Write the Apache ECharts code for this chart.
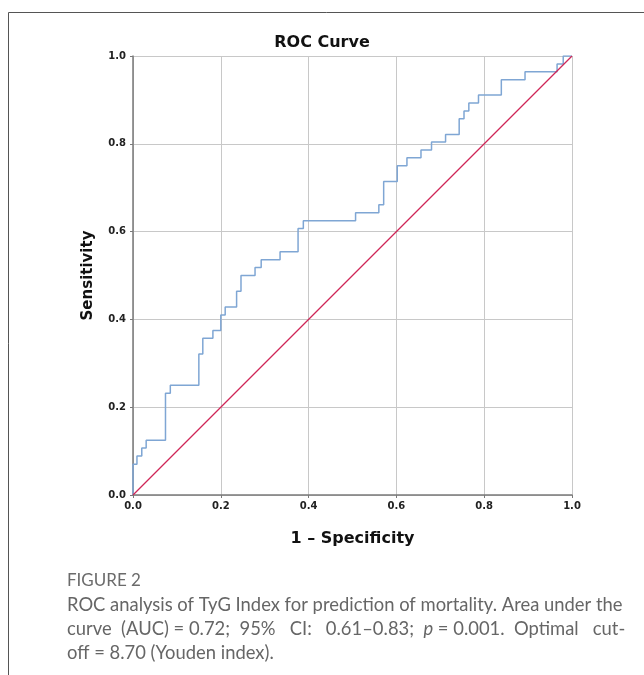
<!DOCTYPE html>
<html>
<head>
<meta charset="utf-8">
<script src="https://cdn.jsdelivr.net/npm/echarts@6/dist/echarts.min.js"></script>
<style>
  html, body { margin: 0; padding: 0; background: #fff; }
</style>
</head>
<body>
<div id="myChart" style="width:644px;height:675px;"></div>
<script>
// ROC points (step turns vertically first, then horizontally)
var fpr = [0, 0.009, 0.020, 0.030, 0.074, 0.085, 0.150, 0.159, 0.182, 0.200, 0.210, 0.236, 0.246, 0.278, 0.292, 0.335, 0.376, 0.388, 0.507, 0.560, 0.571, 0.602, 0.624, 0.656, 0.680, 0.712, 0.743, 0.754, 0.765, 0.787, 0.839, 0.893, 0.966, 0.980, 1.0];
var tpr = [0, 0.070, 0.089, 0.107, 0.125, 0.232, 0.250, 0.321, 0.357, 0.375, 0.410, 0.428, 0.464, 0.500, 0.518, 0.536, 0.554, 0.607, 0.625, 0.643, 0.661, 0.714, 0.750, 0.768, 0.786, 0.804, 0.821, 0.857, 0.875, 0.893, 0.911, 0.946, 0.964, 0.982, 1.0];
var refX = [0, 1];
var refY = [0, 1];

var rocData = fpr.map(function (x, i) { return [x, tpr[i]]; });
var refData = refX.map(function (x, i) { return [x, refY[i]]; });

var myChart = echarts.init(document.getElementById("myChart"));
var capFont = "Lato, 'Open Sans', sans-serif";

myChart.setOption({
  animation: false,
  title: {
    text: "ROC Curve",
    left: "center",
    top: 30,
    textStyle: { fontFamily: "'DejaVu Sans'", fontSize: 16, fontWeight: "bold", color: "#111" }
  },
  grid: { left: 133, right: 72, top: 56, bottom: 180 },
  xAxis: {
    type: "value",
    min: 0, max: 1, interval: 0.2,
    name: "1 \u2013 Specificity",
    nameLocation: "middle",
    nameGap: 36,
    nameTextStyle: { fontFamily: "'DejaVu Sans'", fontSize: 16, fontWeight: "bold", color: "#111" },
    axisLine: { lineStyle: { color: "#7a7a7a", width: 1.5 } },
    axisTick: { show: true, length: 3, lineStyle: { color: "#7a7a7a" } },
    axisLabel: {
      margin: 6, fontSize: 10, fontWeight: "bold", color: "#222", fontFamily: "'DejaVu Sans'",
      formatter: function (v) { return v.toFixed(1); }
    },
    splitLine: { show: true, lineStyle: { color: "#c8c8c8", width: 1 } }
  },
  yAxis: {
    type: "value",
    min: 0, max: 1, interval: 0.2,
    name: "Sensitivity",
    nameLocation: "middle",
    nameGap: 37,
    nameTextStyle: { fontFamily: "'DejaVu Sans'", fontSize: 15, fontWeight: "bold", color: "#111" },
    axisLine: { show: true, lineStyle: { color: "#7a7a7a", width: 1.5 } },
    axisTick: { show: true, length: 3, lineStyle: { color: "#7a7a7a" } },
    axisLabel: {
      margin: 7, fontSize: 10, fontWeight: "bold", color: "#222", fontFamily: "'DejaVu Sans'",
      formatter: function (v) { return v.toFixed(1); }
    },
    splitLine: { show: true, lineStyle: { color: "#c8c8c8", width: 1 } }
  },
  series: [
    {
      name: "ROC",
      type: "line",
      step: "start",
      data: rocData,
      showSymbol: false,
      lineStyle: { color: "#7fa6d4", width: 1.5 },
      z: 3
    },
    {
      name: "Reference",
      type: "line",
      data: refData,
      showSymbol: false,
      lineStyle: { color: "#cf2657", width: 1.3 },
      z: 4
    }
  ],
  graphic: [
    { type: "line", shape: { x1: 8.5, y1: 12.5, x2: 644, y2: 12.5 }, style: { stroke: "#555", lineWidth: 1 } },
    { type: "line", shape: { x1: 8.5, y1: 12.5, x2: 8.5, y2: 675 }, style: { stroke: "#555", lineWidth: 1 } },
    {
      type: "text", left: 67, top: 572,
      style: { text: "FIGURE 2", font: "17px " + capFont, fill: "#6b6b6b" }
    },
    {
      type: "text", left: 67, top: 596,
      style: { text: "ROC analysis of TyG Index for prediction of mortality. Area under the", font: "18.4px " + capFont, fill: "#666" }
    },
    {
      type: "text", left: 67, top: 620,
      style: {
        text: "{a|curve  (AUC) = 0.72;  95%   CI:   0.61\u20130.83;  }{i|p}{a| = 0.001.  Optimal   cut-}",
        rich: {
          a: { font: "18.4px " + capFont, fill: "#666" },
          i: { font: "italic 18.4px " + capFont, fill: "#666" }
        }
      }
    },
    {
      type: "text", left: 67, top: 644,
      style: { text: "off = 8.70 (Youden index).", font: "18.4px " + capFont, fill: "#666" }
    }
  ]
});
</script>
</body>
</html>
